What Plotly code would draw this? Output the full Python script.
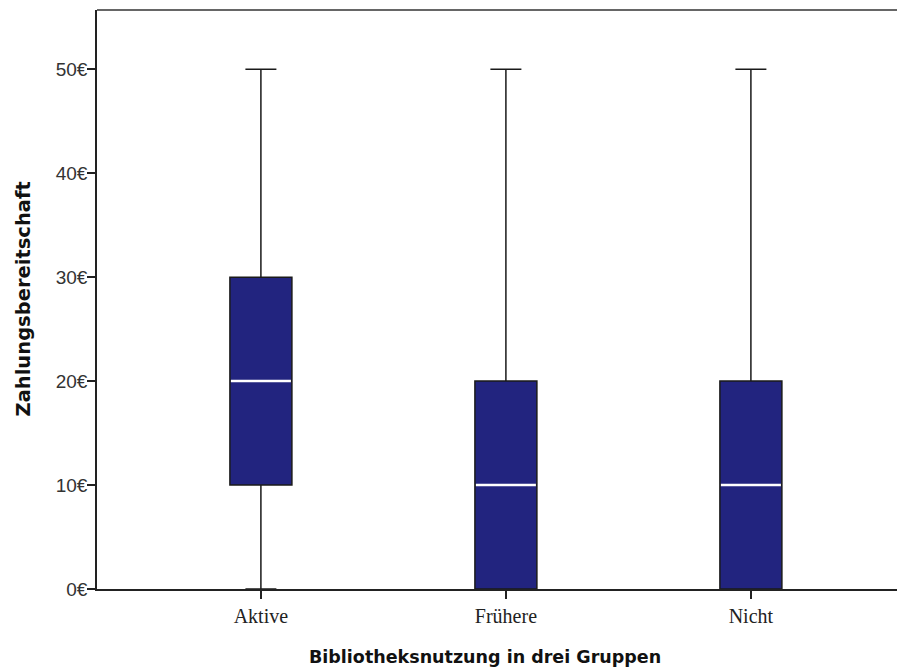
import plotly.graph_objects as go

categories = ["Aktive", "Frühere", "Nicht"]
lower_whisker = [0, 0, 0]
q1_values = [10, 0, 0]
median_values = [20, 10, 10]
q3_values = [30, 20, 20]
upper_whisker = [50, 50, 50]
y_tick_values = [0, 10, 20, 30, 40, 50]
y_tick_labels = ["0€", "10€", "20€", "30€", "40€", "50€"]

BOX_W = 0.253
fig = go.Figure()
for i, cat in enumerate(categories):
    fig.add_trace(go.Box(
        x=[i], q1=[q1_values[i]], median=[median_values[i]], q3=[q3_values[i]],
        lowerfence=[lower_whisker[i]], upperfence=[upper_whisker[i]],
        width=BOX_W, whiskerwidth=0.5,
        fillcolor="#22247f", line=dict(color="#1a1a1a", width=1.5),
        boxpoints=False, showlegend=False, name=cat, hoverinfo="skip",
    ))
    fig.add_trace(go.Scatter(
        x=[i - BOX_W / 2 + 0.004, i + BOX_W / 2 - 0.004],
        y=[median_values[i], median_values[i]],
        mode="lines", line=dict(color="white", width=2.5),
        showlegend=False, hoverinfo="skip",
    ))

W, H = 897, 662
L, T, B = 89, 2, 81
PW, PH = W - L, H - T - B

fig.update_layout(
    width=W, height=H,
    margin=dict(l=L, r=0, t=T, b=B, pad=0),
    paper_bgcolor="white", plot_bgcolor="white",
    xaxis=dict(
        range=[-0.669, 2.629], tickvals=list(range(len(categories))), ticktext=categories,
        showgrid=False, zeroline=False, showline=True, linecolor="#222", linewidth=1.5,
        ticks="outside", ticklen=8, tickcolor="#222", tickwidth=1.5,
        tickfont=dict(family="Liberation Serif", size=20, color="#222"),
    ),
    yaxis=dict(
        range=[0, 55.7], tickvals=y_tick_values, ticktext=y_tick_labels,
        showgrid=False, zeroline=False, showline=True, linecolor="#222", linewidth=1.5,
        ticks="outside", ticklen=8, tickcolor="#222", tickwidth=1.5,
        tickfont=dict(family="Liberation Sans", size=19, color="#333"),
        ticklabelstandoff=-4,
    ),
    shapes=[dict(type="line", xref="paper", yref="paper", x0=0, x1=1, y0=1, y1=1,
                 line=dict(color="#333", width=1.5))],
    annotations=[
        dict(text="<b>Bibliotheksnutzung in drei Gruppen</b>", xref="paper", yref="paper",
             x=(477 - L) / PW, y=(T + PH - 649) / PH, xanchor="center", yanchor="middle",
             showarrow=False, font=dict(family="DejaVu Sans", size=17.5, color="#111")),
        dict(text="<b>Zahlungsbereitschaft</b>", xref="paper", yref="paper",
             x=(15 - L) / PW, y=0.5, xanchor="center", yanchor="middle", showarrow=False,
             textangle=-90, font=dict(family="DejaVu Sans", size=19.5, color="#111")),
    ],
)

fig.write_html("out.html")
